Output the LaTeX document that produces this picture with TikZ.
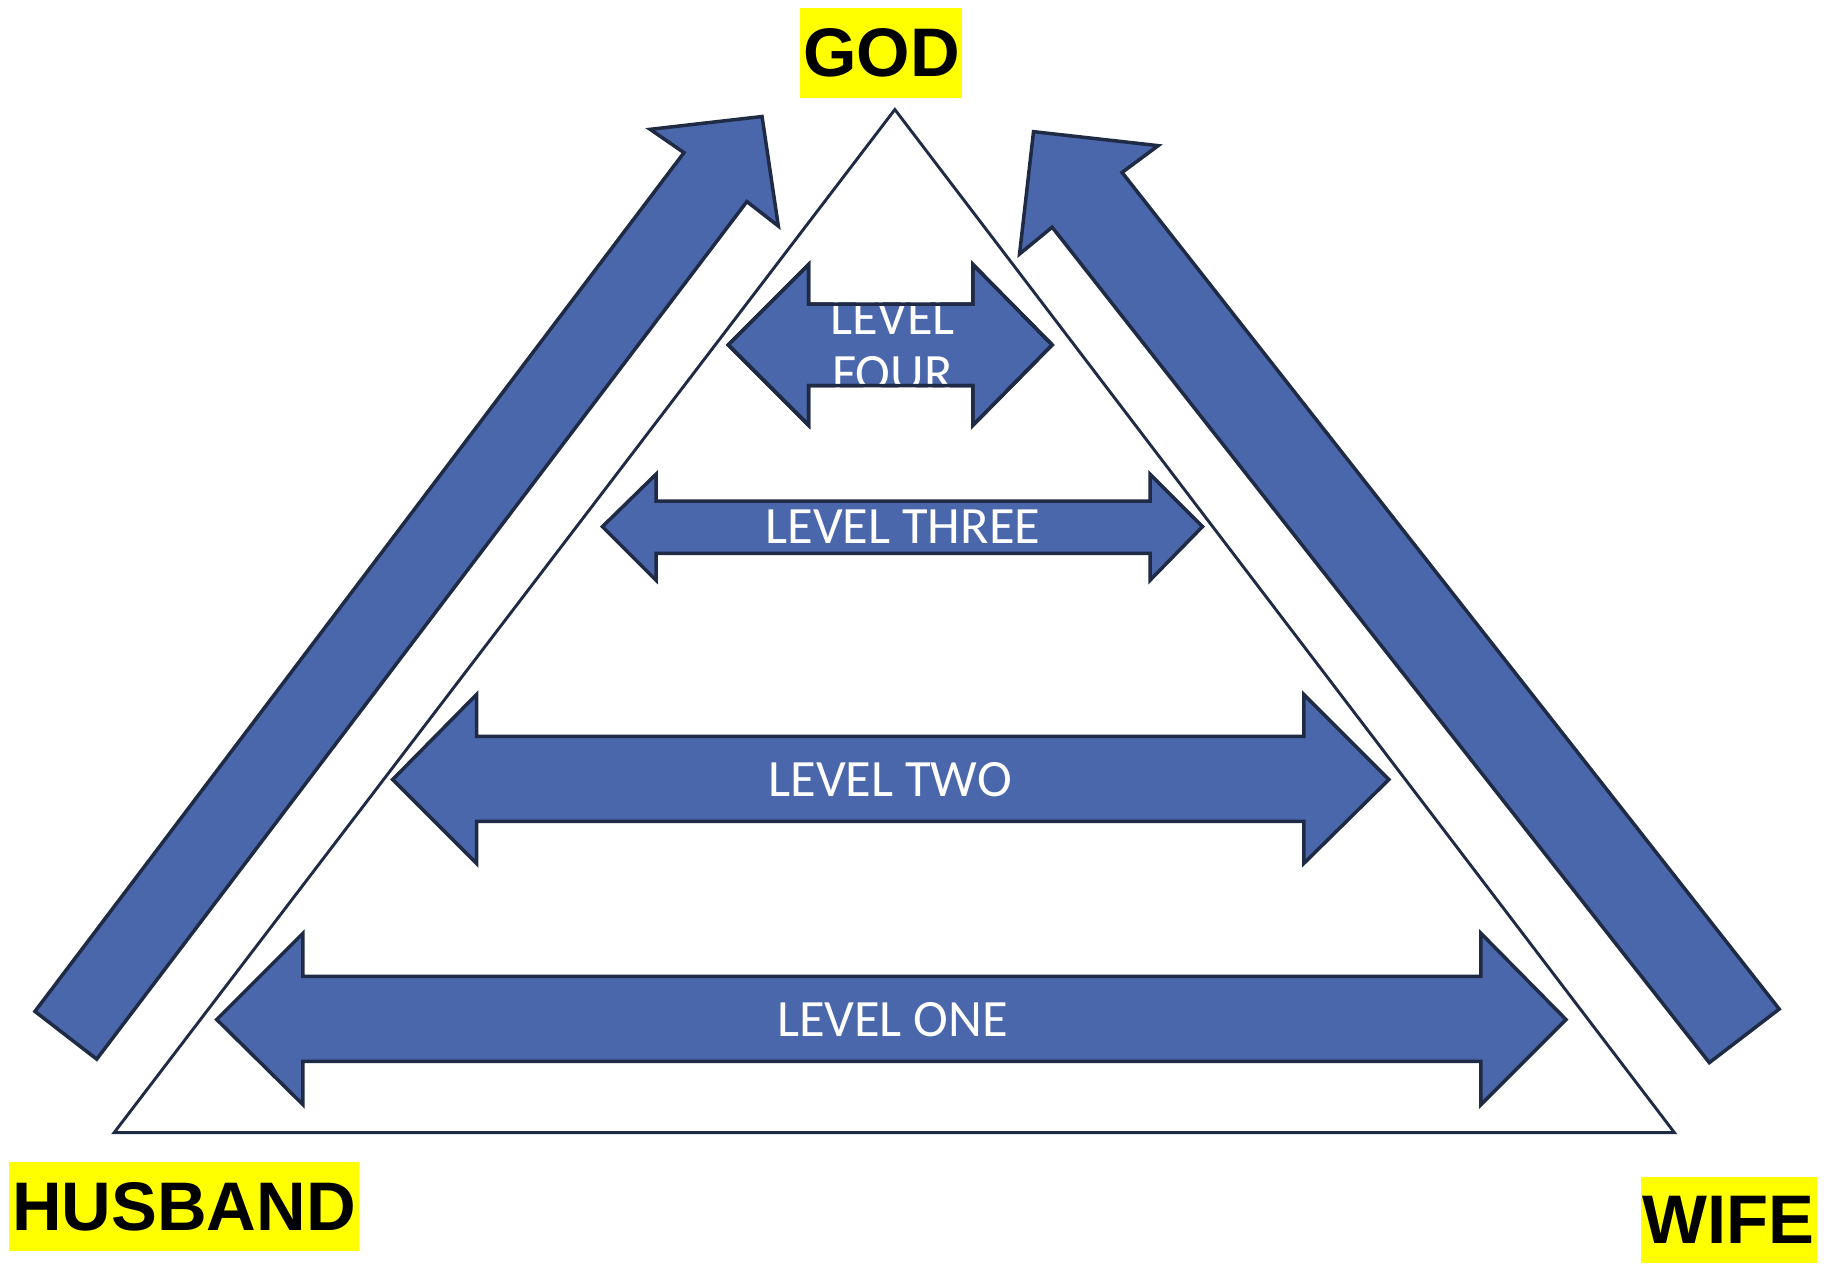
\documentclass[tikz,border=0pt]{standalone}
\usepackage{fontspec}
\setmainfont{Liberation Sans}
\newfontfamily\lvlfont{Carlito}
\definecolor{arrowfill}{RGB}{74,103,172}
\definecolor{navy}{RGB}{31,42,68}
\definecolor{hilite}{RGB}{255,255,0}
\tikzset{
  bigarrow/.style={fill=arrowfill, draw=navy, line width=3pt, line join=miter},
  outlineonly/.style={draw=navy, line width=3pt, line join=miter},
  lvltext/.style={text=white, font=\lvlfont\fontsize{45}{48}\selectfont, align=center, inner sep=0pt},
  tag/.style={fill=hilite, text=black, font=\bfseries\fontsize{59}{59}\selectfont, inner sep=0pt, anchor=center}
}
\begin{document}
\begin{tikzpicture}[x=1pt,y=-1pt]
\useasboundingbox (0,0) rectangle (1568,1084);
% triangle
\draw[navy, line width=2.5pt, line join=miter] (768,94) -- (1437,972) -- (98,972) -- cycle;
% left diagonal arrow
\draw[bigarrow] (30,868) -- (587,131) -- (558,111) -- (654,100) -- (668,194) -- (641,173) -- (83,909) -- cycle;
% right diagonal arrow
\draw[bigarrow] (1527,866) -- (963,148) -- (994,125) -- (887,113) -- (875,218) -- (903,195) -- (1467,912) -- cycle;
% level four
\path[bigarrow] (625,296) -- (694,227) -- (694,261) -- (835,261) -- (835,227) -- (903,296) -- (835,365) -- (835,331) -- (694,331) -- (694,365) -- cycle;
\node[lvltext] (l4) at (766,297) {LEVEL\\FOUR};
\draw[outlineonly] (625,296) -- (694,227) -- (694,261) -- (835,261) -- (835,227) -- (903,296) -- (835,365) -- (835,331) -- (694,331) -- (694,365) -- cycle;
% level three
\draw[bigarrow] (517,452) -- (563,407) -- (563,430) -- (987,430) -- (987,407) -- (1032,452) -- (987,498) -- (987,475) -- (563,475) -- (563,498) -- cycle;
\node[lvltext] (l3) at (775,452) {LEVEL THREE};
% level two
\draw[bigarrow] (337,669) -- (409,596) -- (409,632) -- (1119,632) -- (1119,596) -- (1192,669) -- (1119,741) -- (1119,705) -- (409,705) -- (409,741) -- cycle;
\node[lvltext] (l2) at (764,669) {LEVEL TWO};
% level one
\draw[bigarrow] (186,875) -- (260,801) -- (260,838) -- (1271,838) -- (1271,801) -- (1344,875) -- (1271,948) -- (1271,911) -- (260,911) -- (260,948) -- cycle;
\node[lvltext] (l1) at (766,875) {LEVEL ONE};
% labels
\node[tag, minimum width=139pt, minimum height=77pt] (god) at (756.5,45.5) {GOD};
\node[tag, minimum width=300pt, minimum height=77pt] (husband) at (158,1035.5) {HUSBAND};
\node[tag, minimum width=151pt, minimum height=74pt] (wife) at (1483.5,1047) {WIFE};
\end{tikzpicture}
\end{document}
